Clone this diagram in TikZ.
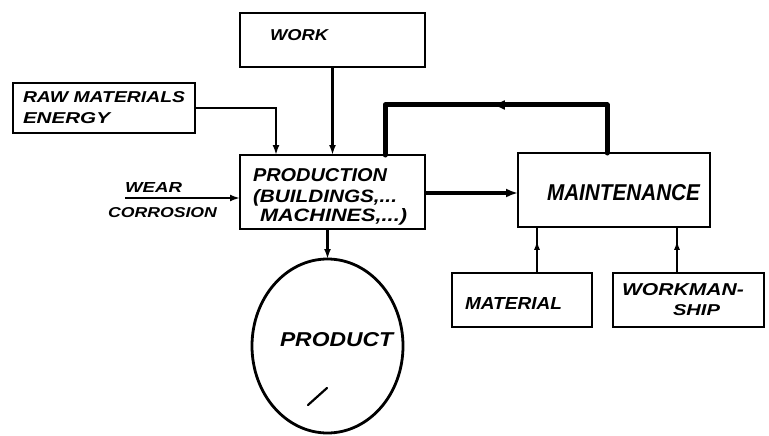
\documentclass[tikz,border=0pt]{standalone}
\usepackage{fontspec}
\setmainfont{Liberation Sans}
\usepackage{graphicx}
\usetikzlibrary{shapes.geometric,arrows.meta,decorations.markings}

% hand-lettered caption: width, cap height, text
\newcommand\hand[3]{\resizebox{#1pt}{#2pt}{\bfseries\itshape #3}}

\begin{document}
\begin{tikzpicture}[x=1pt,y=-1pt,
  box/.style={draw, line width=2.8pt, rectangle, inner sep=0pt, outer sep=0pt},
  lbl/.style={anchor=west, inner sep=0pt, outer sep=0pt},
  conn/.style={line width=2.2pt, -{Latex[length=10pt,width=7pt]}},
  thinline/.style={line width=2.2pt},
  midup/.style={postaction={decorate}, decoration={markings,
      mark=at position #1 with {\arrow{Latex[length=9pt,width=6pt]}}}},
  heavy/.style={line width=5pt, line cap=round, line join=round},
  feed/.style={line width=4pt, -{Latex[length=12pt,width=9pt]}}]
\useasboundingbox (0,0) rectangle (769,436);

% boxes
\node[box, minimum width=185pt, minimum height=54pt] (work) at (332.5,40) {};
\node[box, minimum width=182pt, minimum height=50pt] (raw) at (104,108) {};
\node[box, minimum width=185pt, minimum height=74pt] (prod) at (332.5,192) {};
\node[box, minimum width=192pt, minimum height=74pt] (maint) at (614,190) {};
\node[box, minimum width=140pt, minimum height=54pt] (mat) at (522,300) {};
\node[box, minimum width=151pt, minimum height=54pt] (wms) at (688.5,300) {};
\node[draw, ellipse, line width=2.8pt, inner sep=0pt, outer sep=0pt,
      minimum width=151pt, minimum height=174pt] (product) at (327.5,346) {};

% labels
\node[lbl] (tWork) at (270,35) {\hand{58}{11}{WORK}};
\node[lbl] (tRaw1) at (23,97) {\hand{162}{11}{RAW MATERIALS}};
\node[lbl] (tRaw2) at (23,118) {\hand{87}{11}{ENERGY}};
\node[lbl] (tProd1) at (253,175) {\hand{134}{13}{PRODUCTION}};
\node[lbl] (tProd2) at (253,198) {\hand{144}{13}{(BUILDINGS,...}};
\node[lbl] (tProd3) at (260,217) {\hand{147}{13}{MACHINES,...)}};
\node[lbl] (tWear) at (125,187) {\hand{57}{10}{WEAR}};
\node[lbl] (tCorr) at (108,213) {\hand{109}{10}{CORROSION}};
\node[lbl] (tMaint) at (547,193) {\hand{153}{16}{MAINTENANCE}};
\node[lbl] (tMat) at (465,303) {\hand{97}{12}{MATERIAL}};
\node[lbl] (tWms1) at (622,290) {\hand{122}{12}{WORKMAN-}};
\node[lbl] (tWms2) at (673,310) {\hand{47}{11}{SHIP}};
\node[lbl] (tProduct) at (280,340) {\hand{113}{14}{PRODUCT}};

% inputs to production
\draw[conn] (raw.east) -| ([xshift=36pt]prod.north west);
\draw[conn] (work.south) -- (prod.north);
\coordinate (wearstart) at (125,198);
\draw[conn] (wearstart) -- (wearstart -| prod.west);

% production to maintenance and back
\draw[feed] (prod.east |- 0,193) -- (maint.west |- 0,193);
\coordinate (looptop) at (0,105);
\coordinate (m1) at ([xshift=-7pt]maint.north);
\coordinate (p1) at ([xshift=-40pt]prod.north east);
\draw[heavy, postaction={decorate}, decoration={markings,
      mark=at position 0.51 with {\arrow{Latex[length=13pt,width=10pt]}}}]
  (m1) -- (m1 |- looptop) -- (p1 |- looptop) -- (p1);

% supplies to maintenance
\coordinate (matTop) at ([xshift=15pt]mat.north);
\coordinate (wmsTop) at ([xshift=-11.5pt]wms.north);
\draw[thinline, midup=0.7] (matTop) -- (matTop |- maint.south);
\draw[thinline, midup=0.7] (wmsTop) -- (wmsTop |- maint.south);

% output
\draw[conn] (product.north |- prod.south) -- (product.north);
\draw[line width=2.2pt, line cap=round] (308,405) -- (327,388);
\end{tikzpicture}
\end{document}
